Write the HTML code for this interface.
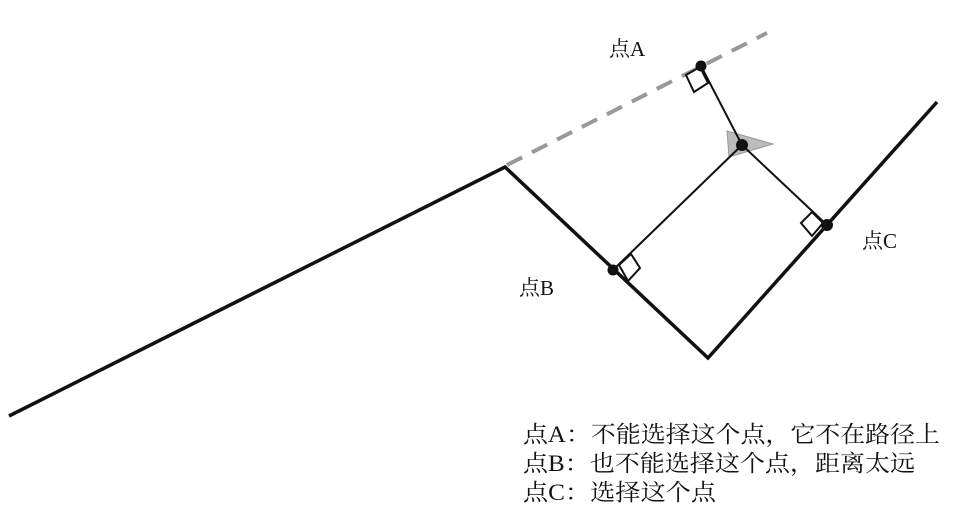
<!DOCTYPE html>
<html><head><meta charset="utf-8"><style>
html,body{margin:0;padding:0;background:#fff;}
svg{display:block;}
text{font-family:"Liberation Serif","Noto Serif CJK SC","Noto Sans CJK SC",serif;fill:#111;}
</style></head><body>
<svg width="973" height="514" viewBox="0 0 973 514" xmlns="http://www.w3.org/2000/svg">
<line x1="507" y1="165" x2="767" y2="33" stroke="#999" stroke-width="4" stroke-dasharray="17,11"/>
<polyline points="9,416 505,167 708,358 937,102" fill="none" stroke="#111" stroke-width="3.5" stroke-linejoin="miter"/>
<polygon points="727,131 773,144 729,157" fill="#bbb" stroke="#999" stroke-width="1"/>
<line x1="701" y1="66" x2="742" y2="145" stroke="#111" stroke-width="2"/>
<line x1="742" y1="145" x2="827" y2="225" stroke="#111" stroke-width="2"/>
<line x1="742" y1="145" x2="613" y2="270" stroke="#111" stroke-width="2"/>
<polygon points="686,75 700,67 708,83 694,92" fill="#fff" stroke="#111" stroke-width="2"/>
<polygon points="619,265 631,254 640,268 628,281" fill="#fff" stroke="#111" stroke-width="2"/>
<polygon points="801,223 812,212 823,223 812,236" fill="#fff" stroke="#111" stroke-width="2"/>
<circle cx="701" cy="66" r="5.5" fill="#111"/>
<circle cx="742" cy="145" r="6" fill="#111"/>
<circle cx="613" cy="270" r="5.5" fill="#111"/>
<circle cx="827" cy="225" r="6" fill="#111"/>
<text x="609" y="56" font-size="21">点A</text>
<text x="519" y="295" font-size="21">点B</text>
<text x="862" y="248" font-size="21">点C</text>
<text x="523" y="442" font-size="23" textLength="417" lengthAdjust="spacingAndGlyphs">点A：不能选择这个点，它不在路径上</text>
<text x="523" y="471" font-size="23" textLength="392" lengthAdjust="spacingAndGlyphs">点B：也不能选择这个点，距离太远</text>
<text x="523" y="500" font-size="23" textLength="193" lengthAdjust="spacingAndGlyphs">点C：选择这个点</text>
</svg>
</body></html>
